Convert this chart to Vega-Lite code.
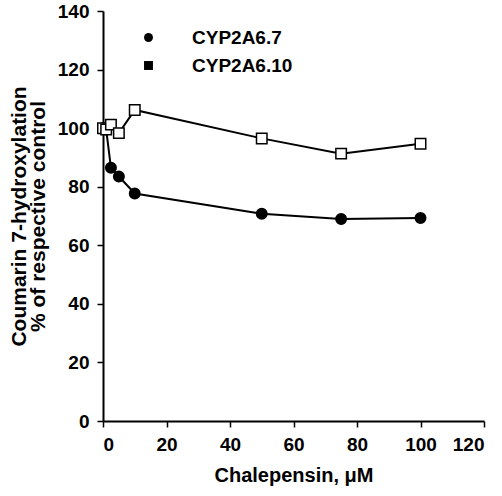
{
  "$schema": "https://vega.github.io/schema/vega-lite/v6.json",
  "width": 381,
  "height": 410,
  "autosize": {"type": "none"},
  "padding": {"left": 103, "top": 11, "right": 18, "bottom": 75},
  "background": "white",
  "data": {
    "values": [
      {"conc": 0, "activity": 100, "variant": "CYP2A6.7"},
      {"conc": 1, "activity": 99.5, "variant": "CYP2A6.7"},
      {"conc": 2.5, "activity": 86.5, "variant": "CYP2A6.7"},
      {"conc": 5, "activity": 83.5, "variant": "CYP2A6.7"},
      {"conc": 10, "activity": 77.7, "variant": "CYP2A6.7"},
      {"conc": 50, "activity": 70.8, "variant": "CYP2A6.7"},
      {"conc": 75, "activity": 69, "variant": "CYP2A6.7"},
      {"conc": 100, "activity": 69.3, "variant": "CYP2A6.7"},
      {"conc": 0, "activity": 100, "variant": "CYP2A6.10"},
      {"conc": 1, "activity": 99.5, "variant": "CYP2A6.10"},
      {"conc": 2.5, "activity": 101.2, "variant": "CYP2A6.10"},
      {"conc": 5, "activity": 98.3, "variant": "CYP2A6.10"},
      {"conc": 10, "activity": 106.2, "variant": "CYP2A6.10"},
      {"conc": 50, "activity": 96.5, "variant": "CYP2A6.10"},
      {"conc": 75, "activity": 91.3, "variant": "CYP2A6.10"},
      {"conc": 100, "activity": 94.7, "variant": "CYP2A6.10"}
    ]
  },
  "encoding": {
    "x": {
      "field": "conc",
      "type": "quantitative",
      "scale": {"domain": [0, 120], "nice": false, "zero": false},
      "axis": {"values": [0, 20, 40, 60, 80, 100, 120], "title": "Chalepensin, μM", "titlePadding": 11, "labelPadding": 8, "titleFontSize": 20}
    },
    "y": {
      "field": "activity",
      "type": "quantitative",
      "scale": {"domain": [0, 140], "nice": false},
      "axis": {"values": [0, 20, 40, 60, 80, 100, 120, 140], "title": ["Coumarin 7-hydroxylation", "% of respective control"], "titlePadding": 9, "titleLineHeight": 19, "labelPadding": 8, "titleFontSize": 21}
    }
  },
  "layer": [
    {
      "mark": {"type": "line", "stroke": "black", "strokeWidth": 2},
      "encoding": {"detail": {"field": "variant"}}
    },
    {
      "mark": {"type": "point", "filled": true, "stroke": "black", "strokeWidth": 1.5, "opacity": 1, "size": 110},
      "encoding": {
        "shape": {
          "field": "variant",
          "type": "nominal",
          "scale": {"domain": ["CYP2A6.7", "CYP2A6.10"], "range": ["circle", "square"]},
          "legend": {
            "title": null,
            "orient": "none",
            "legendX": 36,
            "legendY": 17,
            "padding": 0,
            "symbolSize": 80,
            "rowPadding": 8,
            "labelOffset": 34,
            "labelFont": "Liberation Sans",
            "labelFontWeight": "bold",
            "labelFontSize": 19,
            "labelColor": "black",
            "labelBaseline": "middle",
            "symbolStrokeColor": "black",
            "symbolStrokeWidth": 1.5,
            "encode": {
              "symbols": {
                "fill": {"condition": {"test": "datum.value === 'CYP2A6.7'", "value": "black"}, "value": "white"},
                "stroke": {"value": "black"},
                "strokeWidth": {"value": 1.5},
                "opacity": {"value": 1}
              }
            }
          }
        },
        "fill": {
          "field": "variant",
          "type": "nominal",
          "scale": {"domain": ["CYP2A6.10", "CYP2A6.7"], "range": ["white", "black"]},
          "legend": null
        }
      }
    }
  ],
  "config": {
    "view": {"stroke": null},
    "axis": {
      "grid": false,
      "domainColor": "black",
      "domainWidth": 2,
      "tickColor": "black",
      "tickWidth": 1.5,
      "tickSize": 6,
      "labelFont": "Liberation Sans",
      "labelFontWeight": "bold",
      "labelFontSize": 19,
      "labelColor": "black",
      "titleFont": "Liberation Sans",
      "titleFontWeight": "bold",
      "titleColor": "black"
    }
  }
}
